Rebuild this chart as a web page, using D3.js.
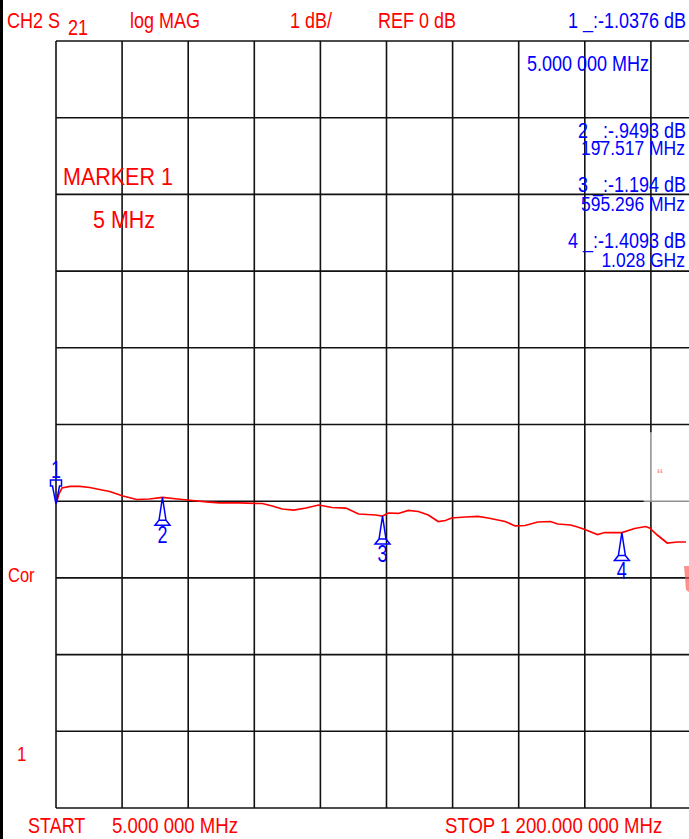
<!DOCTYPE html>
<html>
<head>
<meta charset="utf-8">
<script src="https://cdn.jsdelivr.net/npm/d3@7"></script>
<style>
	body { margin: 0; background: #fff; }
	text { font-family: "Liberation Sans", Arial, sans-serif; }
</style>
</head>
<body>
<div id="chart-area"></div>
<script>
// S21 trace (MHz, dB)
const freqMHz = [5, 10.4, 15.8, 30, 48, 66, 79, 102, 126, 151, 174, 197.5, 225, 252, 277, 300,
	336, 378, 396, 414, 435, 457, 480, 504, 529, 552, 583, 595.3, 606, 624, 642, 660, 678,
	696, 709, 720, 745, 768, 786, 817, 835, 853, 876, 899, 912, 935, 948, 961, 984, 997,
	1028, 1051, 1071, 1078, 1092, 1110, 1128, 1144]
const s21dB = [-1.038, -0.906, -0.828, -0.808, -0.808, -0.821, -0.841, -0.874, -0.932, -0.978,
	-0.971, -0.949, -0.971, -0.991, -1.010, -1.023, -1.023, -1.030, -1.063, -1.102, -1.115,
	-1.089, -1.050, -1.082, -1.089, -1.167, -1.180, -1.194, -1.154, -1.160, -1.121, -1.134,
	-1.180, -1.265, -1.252, -1.219, -1.206, -1.199, -1.219, -1.265, -1.323, -1.317, -1.271,
	-1.265, -1.297, -1.310, -1.336, -1.369, -1.434, -1.408, -1.409, -1.356, -1.330, -1.349,
	-1.441, -1.545, -1.532, -1.532]

// markers
const markerFreq = [5, 197.517, 595.296, 1028]
const markerDb = [-1.0376, -0.9493, -1.194, -1.4093]
const markerNames = ["1", "2", "3", "4"]
const markerValueText = ["1 _:-1.0376 dB", "2 _:-.9493 dB", "3 _:-1.194 dB", "4 _:-1.4093 dB"]
const markerFreqText = ["5.000 000 MHz", "197.517 MHz", "595.296 MHz", "1.028 GHz"]

// sweep / scale settings
const START_MHZ = 5
const STOP_MHZ = 1200
const REF_DB = 0
const DB_PER_DIV = 1
const DIVS = 10

const W = 689
const H = 839
const GRID = { LEFT: 56, TOP: 41, DIV_X: 66.1, DIV_Y: 76.7 }

const RED = "#ff0000"
const BLUE = "#0000ff"

const svg = d3.select("#chart-area")
	.append("svg")
	.attr("width", W)
	.attr("height", H)

const x = d3.scaleLinear()
	.domain([START_MHZ, STOP_MHZ])
	.range([GRID.LEFT, GRID.LEFT + DIVS * GRID.DIV_X])

const y = d3.scaleLinear()
	.domain([REF_DB - DB_PER_DIV * DIVS / 2, REF_DB + DB_PER_DIV * DIVS / 2])
	.range([GRID.TOP + DIVS * GRID.DIV_Y, GRID.TOP])

// left frame edge
svg.append("rect")
	.attr("x", 0).attr("y", 0)
	.attr("width", 3).attr("height", H)
	.attr("fill", "#000")

// graticule
const xDivs = d3.range(DIVS + 1).map(i => START_MHZ + i * (STOP_MHZ - START_MHZ) / DIVS)
const yDivs = d3.range(DIVS + 1).map(i => y.domain()[0] + i * DB_PER_DIV)

const grid = svg.append("g")
	.attr("stroke", "#111")
	.attr("stroke-width", 1.6)

grid.selectAll(".vline").data(xDivs).enter()
	.append("line")
	.attr("class", "vline")
	.attr("x1", d => x(d)).attr("x2", d => x(d))
	.attr("y1", y(y.domain()[1])).attr("y2", y(y.domain()[0]))

grid.selectAll(".hline").data(yDivs).enter()
	.append("line")
	.attr("class", "hline")
	.attr("x1", x(START_MHZ)).attr("x2", x(STOP_MHZ))
	.attr("y1", d => y(d)).attr("y2", d => y(d))

// faded patch on the right of the screen capture
svg.append("rect")
	.attr("x", x(1071) - 2).attr("y", y(-0.1))
	.attr("width", W).attr("height", y(-1.01) - y(-0.1))
	.attr("fill", "#fff").attr("opacity", 0.55)
svg.append("text")
	.attr("x", 657).attr("y", 482)
	.attr("fill", "#f66").attr("opacity", 0.7)
	.style("font-size", "18px")
	.text("“")
svg.append("path")
	.attr("d", "M684,566 L689,566 L689,592 L686,590 Z")
	.attr("fill", "#f55").attr("opacity", 0.65)

// trace
const trace = freqMHz.map((f, i) => ({ f, db: s21dB[i] }))
const line = d3.line()
	.x(d => x(d.f))
	.y(d => y(d.db))

svg.append("path")
	.datum(trace)
	.attr("d", line)
	.attr("fill", "none")
	.attr("stroke", RED)
	.attr("stroke-width", 1.7)

// helper for the slightly tall analyzer font
function label(px, py, txt, color, size, anchor, sy) {
	return svg.append("text")
		.attr("transform", `translate(${px},${py}) scale(1,${sy || 1.18})`)
		.attr("fill", color)
		.attr("text-anchor", anchor || "start")
		.style("font-size", size + "px")
		.text(txt)
}

// marker symbols
const markers = markerFreq.map((f, i) => ({ f, db: markerDb[i], name: markerNames[i] }))
const mk = svg.append("g")
	.attr("fill", "none")
	.attr("stroke", BLUE)
	.attr("stroke-width", 1.5)
	.attr("stroke-linejoin", "miter")

markers.forEach((m, i) => {
	const mx = x(m.f)
	const my = y(m.db)
	if (i === 0) {
		// reference marker points down onto the trace
		mk.append("path")
			.attr("d", `M${mx},${my} L${mx - 3.5},${my - 18} L${mx - 5.5},${my - 18} L${mx - 5.5},${my - 24} L${mx + 5.5},${my - 24} L${mx + 5.5},${my - 18} L${mx + 3.5},${my - 18} Z`)
		label(mx, my - 26, m.name, BLUE, 18, "middle", 1.3)
	} else {
		mk.append("path")
			.attr("d", `M${mx},${my} L${mx - 3.5},${my + 23} L${mx - 7.5},${my + 28} L${mx + 7.5},${my + 28} L${mx + 3.5},${my + 23} Z M${mx - 3.5},${my + 23} L${mx + 3.5},${my + 23}`)
		label(mx, my + 46, m.name, BLUE, 18, "middle", 1.3)
	}
})

// header
label(7, 28, "CH2 S", RED, 18)
label(68, 35, "21", RED, 18)
label(130, 28, "log MAG", RED, 18)
label(290, 28, "1 dB/", RED, 18)
label(378, 28, "REF 0 dB", RED, 18)

// marker readouts
const readBase = [28, 138, 192, 248]
const freqBase = [71, 155, 211, 267]
markerValueText.forEach((t, i) => label(686, readBase[i], t, BLUE, 18, "end"))
markerFreqText.forEach((t, i) => {
	if (i === 0) label(527, freqBase[i], t, BLUE, 18)
	else label(685, freqBase[i], t, BLUE, 17.5, "end")
})

// annotations
label(63, 185, "MARKER 1", RED, 21.5, "start", 1.1)
label(93, 228, "5 MHz", RED, 21.5, "start", 1.1)
label(8, 582, "Cor", RED, 16.5)
label(17, 761, "1", RED, 17)

// footer
label(28, 833, "START", RED, 18)
label(112, 833, "5.000 000 MHz", RED, 18.6)
label(445, 833, "STOP 1 200.000 000 MHz", RED, 18.6)
</script>
</body>
</html>
